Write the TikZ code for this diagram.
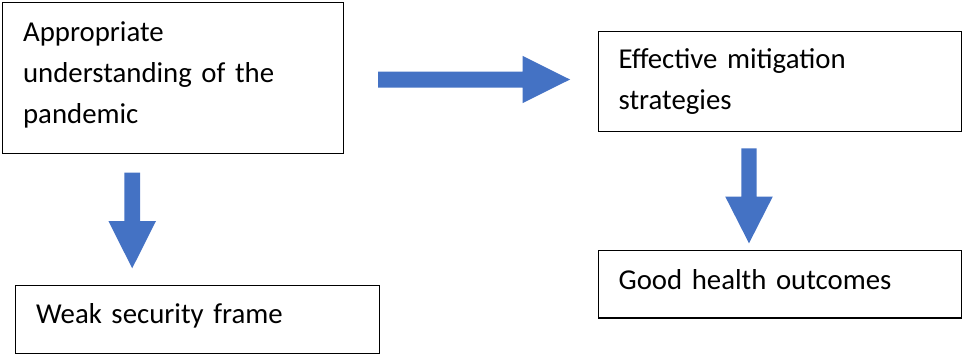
\documentclass[tikz,border=0pt]{standalone}
\usepackage{fontspec}
\setmainfont{Carlito}
\usetikzlibrary{calc}
\definecolor{arrowblue}{HTML}{4472C4}
\begin{document}
\begin{tikzpicture}[x=1pt,y=-1pt,
  box/.style={draw=black, line width=1.2pt, rectangle, anchor=north west,
    inner xsep=20.5pt, inner ysep=0pt, align=left,
    font=\fontsize{28.8}{40.7}\selectfont},
  blockarrow/.style={fill=arrowblue, draw=none}]
\useasboundingbox (0,0) rectangle (963,356);

\node[box, minimum width=341pt, minimum height=151pt, text width=300pt,
      text height=0pt, text depth=73pt] (b1) at (2,2)
  {Appropriate\\understanding of the\\pandemic};
\node[box, minimum width=363pt, minimum height=100.2pt, text width=322pt,
      text height=0pt, text depth=24.6pt] (b2) at (597.5,30.5)
  {Effective mitigation\\strategies};
\node[box, minimum width=364pt, minimum height=67.7pt, text width=323pt,
      text height=8.9pt, text depth=0pt] (b3) at (15,285)
  {Weak security frame};
\node[box, minimum width=363.5pt, minimum height=67.3pt, text width=322.5pt,
      text height=11.3pt, text depth=0pt] (b4) at (597.5,250)
  {Good health outcomes};

% block arrows (connectors)
\coordinate (h1s) at (378,79.5);
\coordinate (h1e) at (570,79.5);
\coordinate (v1s) at (132.2,172.7);
\coordinate (v1e) at (132.2,268.3);
\coordinate (v2s) at (749,148.3);
\coordinate (v2e) at (749,243.3);

\fill[blockarrow] ($(h1s)+(0,-8)$) -- ($(h1e)+(-47.3,-8)$) -- ($(h1e)+(-47.3,-23.6)$) -- (h1e)
  -- ($(h1e)+(-47.3,23.6)$) -- ($(h1e)+(-47.3,8)$) -- ($(h1s)+(0,8)$) -- cycle;
\fill[blockarrow] ($(v1s)+(-7.8,0)$) -- ($(v1e)+(-7.8,-47.3)$) -- ($(v1e)+(-23.8,-47.3)$) -- (v1e)
  -- ($(v1e)+(23.8,-47.3)$) -- ($(v1e)+(7.8,-47.3)$) -- ($(v1s)+(7.8,0)$) -- cycle;
\fill[blockarrow] ($(v2s)+(-7.6,0)$) -- ($(v2e)+(-7.6,-46.8)$) -- ($(v2e)+(-23.8,-46.8)$) -- (v2e)
  -- ($(v2e)+(23.8,-46.8)$) -- ($(v2e)+(7.6,-46.8)$) -- ($(v2s)+(7.6,0)$) -- cycle;
\end{tikzpicture}
\end{document}
